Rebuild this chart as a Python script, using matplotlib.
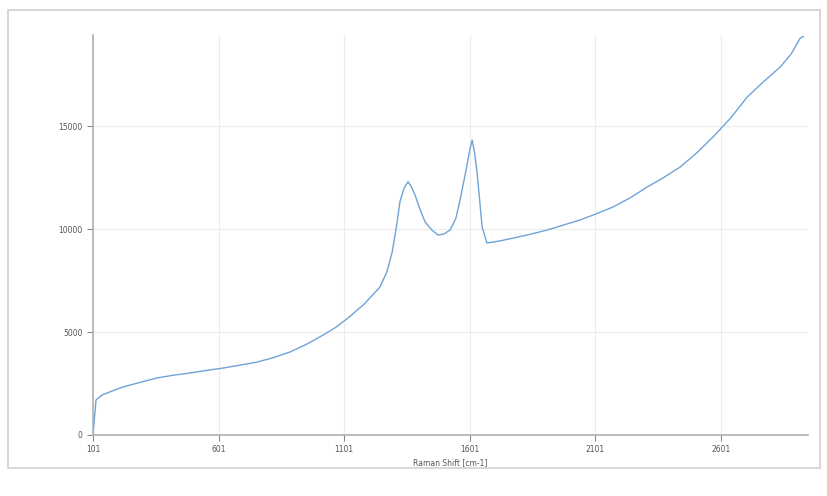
import matplotlib
matplotlib.use("Agg")
import matplotlib.pyplot as plt
from matplotlib.patches import Rectangle

# Raman spectrum
shift = [101, 113, 137, 180, 220, 290, 356, 420, 487, 550, 619, 690, 754, 820,
         885, 950, 1017, 1070, 1116, 1180, 1243, 1270, 1291, 1310, 1323, 1340,
         1355, 1368, 1383, 1403, 1423, 1450, 1474, 1498, 1522, 1545, 1562, 1586,
         1600, 1610, 1620, 1630, 1640, 1650, 1669, 1720, 1773, 1840, 1908, 1970,
         2040, 2100, 2171, 2240, 2307, 2370, 2438, 2500, 2569, 2640, 2705, 2770,
         2836, 2880, 2916, 2928]
intensity = [0, 1700, 1940, 2150, 2330, 2560, 2770, 2900, 3010, 3130, 3250, 3400,
             3540, 3760, 4030, 4400, 4850, 5250, 5680, 6350, 7180, 7900, 8830,
             10200, 11350, 12000, 12300, 12050, 11650, 10950, 10340, 9950, 9710,
             9760, 9950, 10500, 11410, 12860, 13800, 14320, 13700, 12700, 11400,
             10100, 9320, 9420, 9560, 9740, 9950, 10180, 10440, 10720, 11070,
             11520, 12040, 12480, 13010, 13650, 14470, 15400, 16410, 17150, 17860,
             18500, 19270, 19350]

x_ticks = [101, 601, 1101, 1601, 2101, 2601]
y_ticks = [0, 5000, 10000, 15000]

fig = plt.figure(figsize=(8.27, 4.96), dpi=100)
fig.patches.append(Rectangle((8 / 827, 1 - 468 / 496), 812 / 827, 458 / 496,
                             transform=fig.transFigure, fill=False,
                             edgecolor="#cfcfcf", linewidth=1.2))

ax = fig.add_axes([93 / 827, 61 / 496, 715 / 827, 400 / 496])
ax.plot(shift, intensity, color="#6fa3d6", linewidth=1.0)

ax.set_xlim(101, 2947)
ax.set_ylim(0, 19420)
ax.set_xticks(x_ticks)
ax.set_yticks(y_ticks)
ax.tick_params(labelsize=5.5, colors="#888888", length=4, width=0.8,
               labelcolor="#555555")
ax.grid(True, color="#ececec", linewidth=0.8)
for side in ("top", "right"):
    ax.spines[side].set_visible(False)
for side in ("left", "bottom"):
    ax.spines[side].set_color("#b0b0b0")
    ax.spines[side].set_linewidth(1.2)
ax.set_xlabel("Raman Shift [cm-1]", fontsize=5.5, color="#555555", labelpad=3)

fig.savefig("out.png", dpi=100)
